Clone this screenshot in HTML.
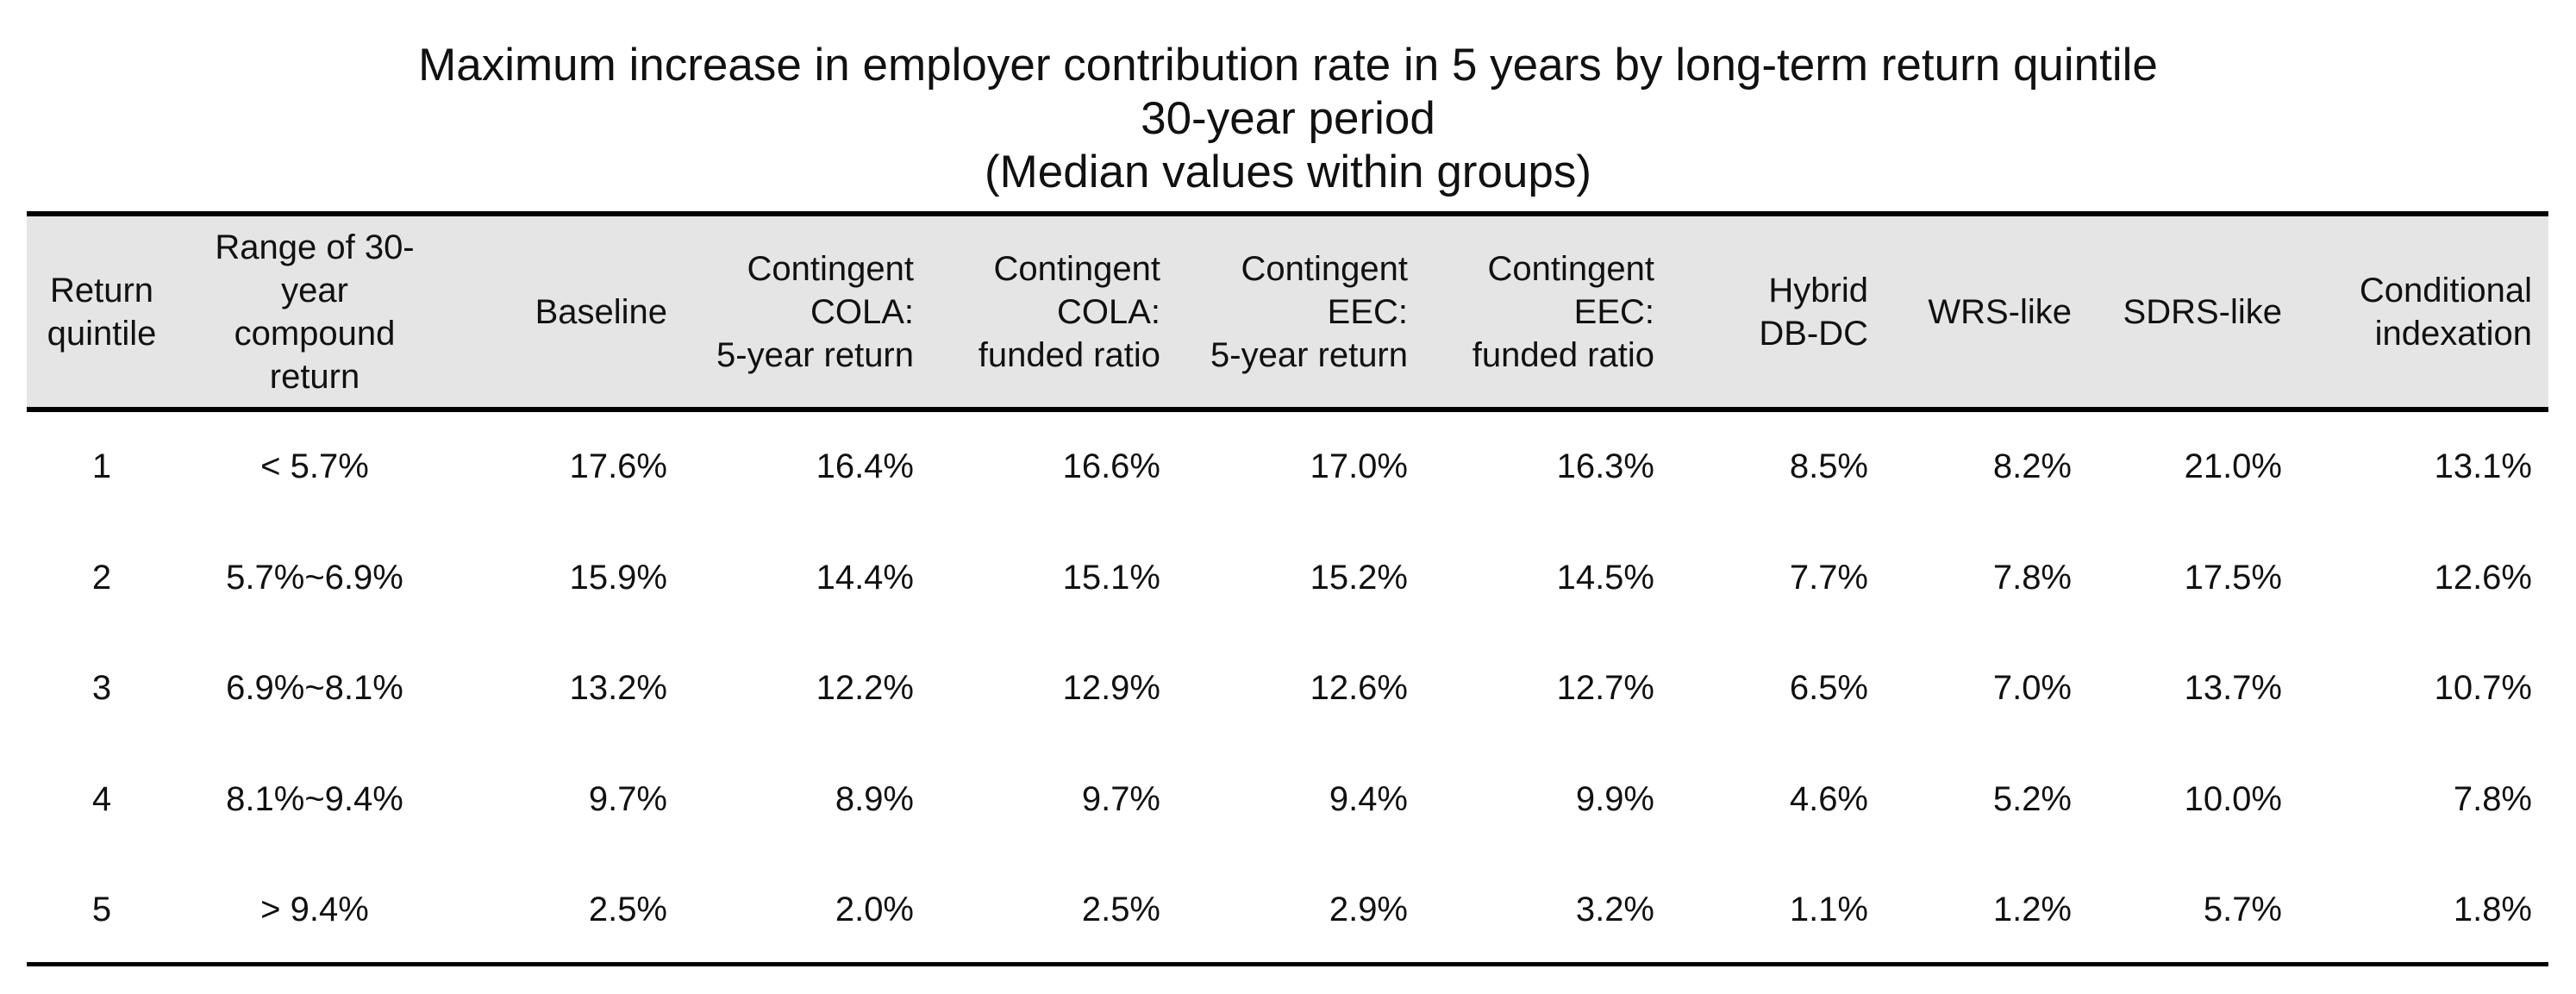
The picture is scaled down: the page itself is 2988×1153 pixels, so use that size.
<!DOCTYPE html>
<html><head><meta charset="utf-8"><style>
body{margin:0;background:#fff;width:2988px;height:1153px;position:relative;overflow:hidden;font-family:"Liberation Sans",sans-serif;color:#111}
.t{position:absolute;left:0;width:2988px;text-align:center;font-size:53px;line-height:62px}
.rule{position:absolute;left:31px;width:2925px;background:#000}
.c{position:absolute;font-size:40px;line-height:50px;white-space:nowrap}
</style></head><body>
<div class="t" style="top:45px">Maximum increase in employer contribution rate in 5 years by long-term return quintile<br>30-year period<br>(Median values within groups)</div>
<div style="position:absolute;left:31px;top:250px;width:2925px;height:222px;background:#e5e5e5"></div>
<div class="rule" style="top:245px;height:6px"></div>
<div class="rule" style="top:472px;height:6px"></div>
<div class="rule" style="top:1116px;height:5px"></div>
<div id="tbl"></div>
<script>
const headers=[["Return","quintile"],["Range of 30-","year","compound","return"],["Baseline"],["Contingent","COLA:","5-year return"],["Contingent","COLA:","funded ratio"],["Contingent","EEC:","5-year return"],["Contingent","EEC:","funded ratio"],["Hybrid","DB-DC"],["WRS-like"],["SDRS-like"],["Conditional","indexation"]];
const quintiles=["1","2","3","4","5"];
const ranges=["< 5.7%","5.7%~6.9%","6.9%~8.1%","8.1%~9.4%","> 9.4%"];
const baseline=[17.6,15.9,13.2,9.7,2.5];
const colaReturn=[16.4,14.4,12.2,8.9,2.0];
const colaFunded=[16.6,15.1,12.9,9.7,2.5];
const eecReturn=[17.0,15.2,12.6,9.4,2.9];
const eecFunded=[16.3,14.5,12.7,9.9,3.2];
const hybrid=[8.5,7.7,6.5,4.6,1.1];
const wrs=[8.2,7.8,7.0,5.2,1.2];
const sdrs=[21.0,17.5,13.7,10.0,5.7];
const conditional=[13.1,12.6,10.7,7.8,1.8];
const series=[baseline,colaReturn,colaFunded,eecReturn,eecFunded,hybrid,wrs,sdrs,conditional];
const centers=[118,365];
const rights=[774,1060,1346,1633,1919,2167,2403,2647,2937];
const rowY0=541,rowStep=128.5,headMid=362;
const tbl=document.getElementById('tbl');
function place(txt,col,cy,lines,name){
  const d=document.createElement('div');d.className='c';
  
  
  d.innerHTML=txt;
  const h=lines*50;d.style.top=(cy-h/2)+'px';
  if(col<2){d.style.left=(centers[col]-300)+'px';d.style.width='600px';d.style.textAlign='center';}
  else{d.style.left=(rights[col-2]-600)+'px';d.style.width='600px';d.style.textAlign='right';}
  tbl.appendChild(d);
}
headers.forEach((h,i)=>place(h.join('<br>'),i,headMid,h.length,'column-header'));
quintiles.forEach((q,r)=>{
  const y=rowY0+r*rowStep;
  place(q,0,y,1,'quintile-cell');
  place(ranges[r].replace('<','&lt;').replace('>','&gt;'),1,y,1,'range-cell');
  series.forEach((s,k)=>place(s[r].toFixed(1)+'%',k+2,y,1,'value-cell'));
});
</script>
</body></html>
